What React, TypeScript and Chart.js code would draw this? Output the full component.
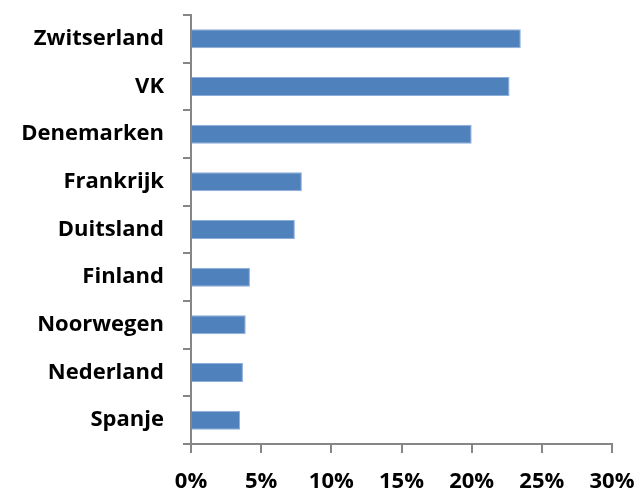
import React, { useEffect, useRef } from "react";
import { Chart, registerables } from "chart.js";

Chart.register(...registerables);

const categories = ["Zwitserland", "VK", "Denemarken", "Frankrijk", "Duitsland", "Finland", "Noorwegen", "Nederland", "Spanje"];
const values = [23.5, 22.7, 20.0, 7.9, 7.4, 4.2, 3.9, 3.7, 3.5];
const xMin = 0;
const xMax = 30;
const xStep = 5;

export default function App() {
  const ref = useRef<HTMLCanvasElement | null>(null);
  useEffect(() => {
    if (!ref.current) return;
    const font = { family: "'Open Sans', Lato, sans-serif", size: 22, weight: "bold" as const };
    const chart = new Chart(ref.current, {
      type: "bar",
      data: {
        labels: categories,
        datasets: [
          {
            data: values,
            backgroundColor: "#4F81BD",
            borderColor: "#8EAEDA",
            borderWidth: 1,
            barPercentage: 0.8,
            categoryPercentage: 0.5,
          },
        ],
      },
      options: {
        indexAxis: "y",
        animation: false,
        responsive: false,
        maintainAspectRatio: false,
        layout: { padding: { left: 0, right: 26, top: 15, bottom: 0 } },
        plugins: { legend: { display: false }, tooltip: { enabled: false } },
        scales: {
          x: {
            min: xMin,
            max: xMax,
            ticks: {
              stepSize: xStep,
              color: "#000",
              font,
              padding: 16,
              maxRotation: 0,
              callback: (v: any) => v + "%",
            },
            grid: { drawOnChartArea: false, color: "#868686", tickLength: 9, lineWidth: 2 },
            border: { color: "#868686", width: 2 },
            afterFit: (s: any) => {
              s.height = 48;
              s.paddingLeft = 0;
              s.paddingRight = 0;
            },
          },
          y: {
            ticks: { color: "#000", font, padding: 19 },
            grid: { drawOnChartArea: false, color: "#868686", tickLength: 8, lineWidth: 2, offset: true },
            border: { color: "#868686", width: 2 },
            afterFit: (s: any) => {
              s.width = 191;
              s.paddingTop = 0;
              s.paddingBottom = 0;
            },
          },
        },
      },
    });
    return () => chart.destroy();
  }, []);
  return (
    <div style={{ position: "absolute", left: 0, top: 0, width: 638, height: 492, background: "#fff" }}>
      <canvas ref={ref} width={638} height={492} />
    </div>
  );
}
